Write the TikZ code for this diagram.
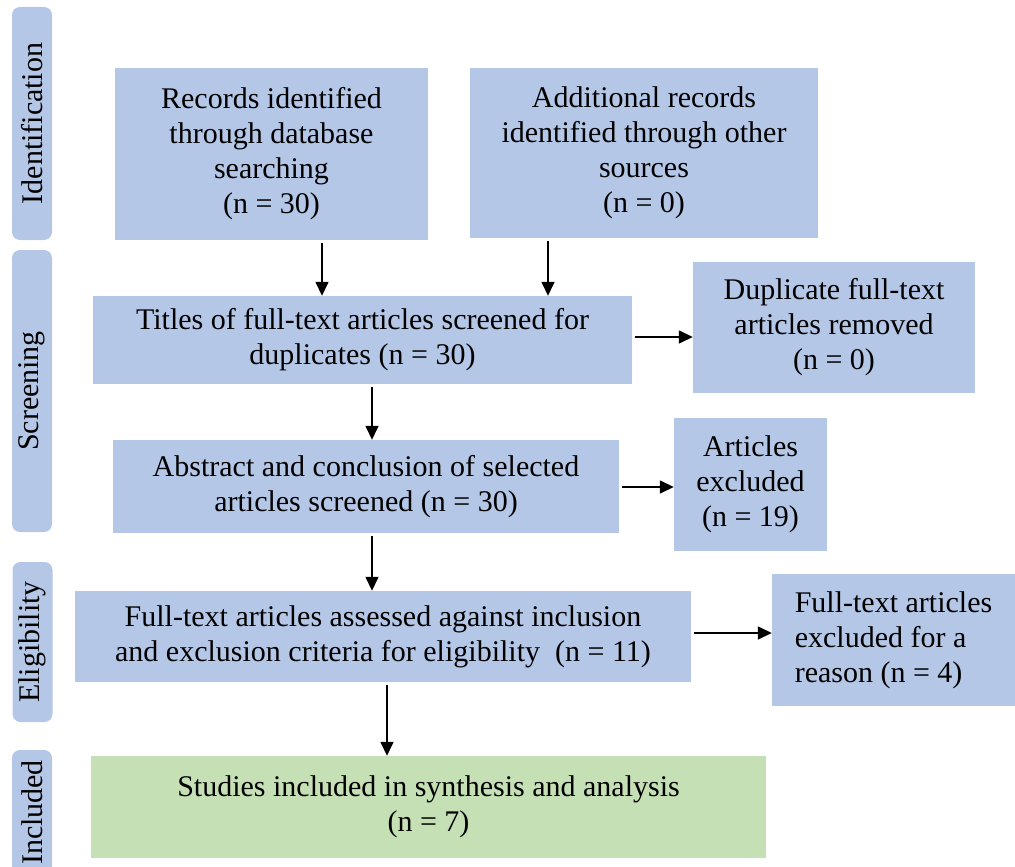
\documentclass[tikz,border=0pt]{standalone}
\usepackage{fontspec}
\setmainfont{Liberation Serif}
\usepackage{tikz}
\usetikzlibrary{arrows.meta}
\definecolor{boxblue}{RGB}{180,199,231}
\definecolor{boxgreen}{RGB}{197,224,180}

\begin{document}
\begin{tikzpicture}[x=1pt,y=-1pt,
    box/.style={fill=boxblue,align=center,inner sep=0pt,font=\fontsize{30}{35}\selectfont},
    phase/.style={fill=boxblue,rounded corners=8pt,rotate=90,minimum height=40pt,inner sep=0pt,font=\fontsize{30}{35}\selectfont},
    arr/.style={-{Triangle[length=14pt,width=13pt]},line width=1.5pt,shorten <=3pt}]
    \clip (0,0) rectangle (1015,867);
    \node[phase,minimum width=233pt] (idph) at (32,123.5) {Identification};
    \node[phase,minimum width=282pt] (scph) at (32,391) {Screening};
    \node[phase,minimum width=160pt] (elph) at (32.5,642) {Eligibility};
    \node[phase,minimum width=125pt] (inph) at (32,812.5) {Included};

    \node[box,minimum width=313pt,minimum height=172pt] (rec) at (271.5,154) {Records identified\\through database\\searching\\(n = 30)};
    \node[box,minimum width=348pt,minimum height=170pt] (add) at (644,153) {Additional records\\identified through other\\sources\\(n = 0)};
    \node[box,minimum width=539pt,minimum height=88pt] (tit) at (362.5,340) {Titles of full-text articles screened for\\duplicates (n = 30)};
    \node[box,minimum width=282pt,minimum height=131pt] (dup) at (834,327.5) {Duplicate full-text\\articles removed\\(n = 0)};
    \node[box,minimum width=506pt,minimum height=93pt] (abs) at (366,486.5) {Abstract and conclusion of selected\\articles screened (n = 30)};
    \node[box,minimum width=153pt,minimum height=133pt] (art) at (750.5,484.5) {Articles\\excluded\\(n = 19)};
    \node[box,minimum width=616pt,minimum height=91pt] (ful) at (383,636.5) {Full-text articles assessed against inclusion\\and exclusion criteria for eligibility\ \ (n = 11)};
    \node[box,align=left,minimum width=243pt,minimum height=132pt] (fex) at (893.5,640) {Full-text articles\\excluded for a\\reason (n = 4)};
    \node[box,fill=boxgreen,minimum width=675pt,minimum height=102pt] (stu) at (428.5,807) {Studies included in synthesis and analysis\\(n = 7)};

    \draw[arr] (322,0 |- rec.south) -- (322,0 |- tit.north);
    \draw[arr] (548,0 |- add.south) -- (548,0 |- tit.north);
    \draw[arr] (tit.east |- 0,337) -- (dup.west |- 0,337);
    \draw[arr] (372,0 |- tit.south) -- (372,0 |- abs.north);
    \draw[arr] (abs.east |- 0,487) -- (art.west |- 0,487);
    \draw[arr] (372,0 |- abs.south) -- (372,0 |- ful.north);
    \draw[arr] (ful.east |- 0,633) -- (fex.west |- 0,633);
    \draw[arr] (387,0 |- ful.south) -- (387,0 |- stu.north);
\end{tikzpicture}
\end{document}
